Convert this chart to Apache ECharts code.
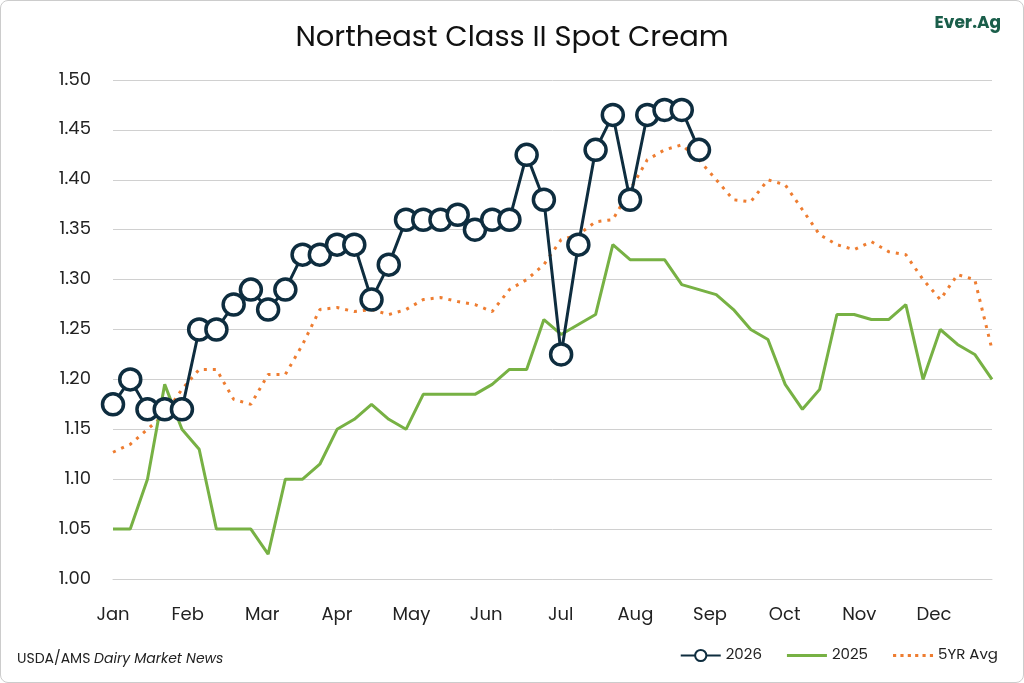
<!DOCTYPE html>
<html><head><meta charset="utf-8">
<script src="https://cdn.jsdelivr.net/npm/echarts@6/dist/echarts.min.js"></script>
<style>html,body{margin:0;padding:0;background:#fff}#c{width:1022px;height:681px;border:1px solid #ccc;border-radius:8px;overflow:hidden}</style>
</head><body><div id="c"></div>
<script>
const months=['Jan','Feb','Mar','Apr','May','Jun','Jul','Aug','Sep','Oct','Nov','Dec'];
const s2026=[1.175,1.20,1.17,1.17,1.17,1.25,1.25,1.275,1.29,1.27,1.29,1.325,1.325,1.335,1.335,1.28,1.315,1.36,1.36,1.36,1.365,1.35,1.36,1.36,1.425,1.38,1.225,1.335,1.43,1.465,1.38,1.465,1.47,1.47,1.43];
const s2025=[1.05,1.05,1.10,1.195,1.15,1.13,1.05,1.05,1.05,1.025,1.10,1.10,1.115,1.15,1.16,1.175,1.16,1.15,1.185,1.185,1.185,1.185,1.195,1.21,1.21,1.26,1.245,1.255,1.265,1.335,1.32,1.32,1.32,1.295,1.29,1.285,1.27,1.25,1.24,1.195,1.17,1.19,1.265,1.265,1.26,1.26,1.275,1.20,1.25,1.235,1.225,1.20];
const avg5=[1.127,1.135,1.15,1.165,1.19,1.21,1.21,1.18,1.175,1.205,1.205,1.235,1.27,1.272,1.268,1.27,1.265,1.27,1.28,1.282,1.278,1.275,1.268,1.29,1.30,1.315,1.34,1.345,1.358,1.36,1.39,1.42,1.43,1.435,1.42,1.40,1.38,1.378,1.40,1.395,1.37,1.345,1.335,1.33,1.338,1.328,1.325,1.30,1.28,1.305,1.30,1.23];
const yTicks=[1.00,1.05,1.10,1.15,1.20,1.25,1.30,1.35,1.40,1.45,1.50];
const idx=a=>a.map((v,i)=>[i,v]);
const mInt=4.33;
const font='Poppins, "Open Sans", sans-serif';
const ch=echarts.init(document.getElementById('c'));
ch.setOption({
 animation:false,
 title:{text:'Northeast Class II Spot Cream',left:'center',top:18,textStyle:{fontFamily:font,fontSize:29,fontWeight:'normal',color:'#111'}},
 graphic:[
  {type:'text',right:22,top:14,style:{text:'Ever.Ag',fontFamily:font,fontSize:17,fontWeight:'bold',fill:'#1a5e4a'}},
  {type:'text',left:16,bottom:16,style:{text:'{a|USDA/AMS }{b|Dairy Market News}',rich:{a:{fontFamily:font,fontSize:14,fill:'#222'},b:{fontFamily:font,fontSize:14,fontStyle:'italic',fill:'#222'}}}}
 ],
 legend:{right:20,bottom:14,itemWidth:40,itemHeight:14,itemGap:25,textStyle:{fontFamily:font,fontSize:15,color:'#222'},
  data:[{name:'2026'},{name:'2025',icon:'path://M0,0H40V3H0Z',itemStyle:{color:'#77b144'}},
   {name:'5YR Avg',icon:'path://M0,0H3V3H0ZM7,0H10V3H7ZM14,0H17V3H14ZM21,0H24V3H21ZM28,0H31V3H28ZM35,0H38V3H35Z',itemStyle:{color:'#ee7d31'}}]},
 grid:{left:112,right:31,top:79,bottom:103},
 xAxis:{type:'value',min:0,max:51,interval:mInt,axisLine:{show:true,lineStyle:{color:'#d0d0d0'}},axisTick:{show:false},splitLine:{show:false},
  axisLabel:{fontFamily:font,fontSize:18,color:'#222',margin:27,showMaxLabel:false,formatter:v=>months[Math.round(v/mInt)]||''}},
 yAxis:{type:'value',min:1.0,max:1.5,interval:0.05,axisLine:{show:false},axisTick:{show:false},splitLine:{lineStyle:{color:'#d0d0d0'}},
  axisLabel:{fontFamily:font,fontSize:18,color:'#222',margin:22,formatter:v=>v.toFixed(2)}},
 series:[
  {name:'5YR Avg',type:'line',data:idx(avg5),symbol:'none',lineStyle:{color:'#ee7d31',width:3,type:[3,6]},itemStyle:{color:'#ee7d31'},z:1},
  {name:'2025',type:'line',data:idx(s2025),symbol:'none',lineStyle:{color:'#77b144',width:3},itemStyle:{color:'#77b144'},z:2},
  {name:'2026',type:'line',data:idx(s2026),symbol:'circle',symbolSize:21,lineStyle:{color:'#0e2d3f',width:3},itemStyle:{color:'#fff',borderColor:'#0e2d3f',borderWidth:3.5},z:3}
 ]
});
</script></body></html>
